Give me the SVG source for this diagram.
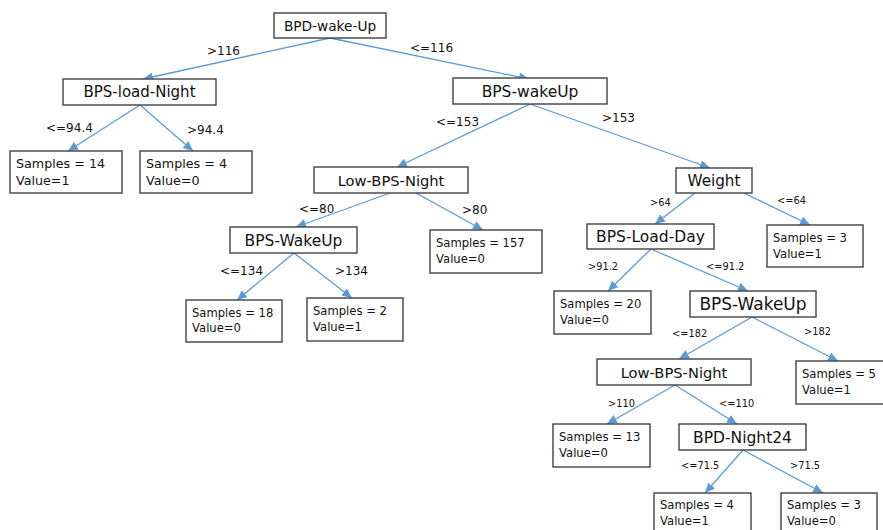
<svg xmlns="http://www.w3.org/2000/svg" width="883" height="530" viewBox="0 0 883 530">
<style>
rect{fill:#fff;stroke:#404040;stroke-width:1.4}
text{font-family:"DejaVu Sans",sans-serif;fill:#111}
.t{text-anchor:middle}
.c line{stroke:#5b9bd5;stroke-width:1.3;marker-end:url(#ah)}
.e{font-size:12px}
.s{font-size:9.8px}
.l{font-size:11.6px}
.L{font-size:12.7px}
</style>
<defs>
<marker id="ah" markerUnits="userSpaceOnUse" markerWidth="11" markerHeight="9" refX="10" refY="4.5" orient="auto">
<path d="M0,0 L10,4.5 L0,9 z" fill="#5b9bd5"/>
</marker>
</defs>
<rect x="0" y="0" width="883" height="530" style="fill:#fff;stroke:none"/>
<g class="c" id="connectors">
<line x1="330" y1="38" x2="143" y2="79"/>
<line x1="330" y1="38" x2="529" y2="79"/>
<line x1="140" y1="105" x2="68" y2="151"/>
<line x1="140" y1="105" x2="193" y2="151"/>
<line x1="530" y1="104" x2="397" y2="167"/>
<line x1="530" y1="104" x2="710" y2="168"/>
<line x1="390" y1="193" x2="296" y2="227"/>
<line x1="416" y1="193" x2="483" y2="230"/>
<line x1="294" y1="253" x2="237" y2="300"/>
<line x1="294" y1="253" x2="352" y2="298"/>
<line x1="695" y1="193" x2="655" y2="224"/>
<line x1="744" y1="193" x2="810" y2="225"/>
<line x1="651" y1="249" x2="608" y2="291"/>
<line x1="651" y1="249" x2="748" y2="291"/>
<line x1="752" y1="317" x2="679" y2="359"/>
<line x1="752" y1="317" x2="838" y2="361"/>
<line x1="675" y1="385" x2="607" y2="424"/>
<line x1="675" y1="385" x2="737" y2="424"/>
<line x1="743" y1="450" x2="705" y2="493"/>
<line x1="743" y1="450" x2="823" y2="493"/>
</g>
<g id="edge-labels">
<text class="e" x="207" y="55">&gt;116</text>
<text class="e" x="410" y="52">&lt;=116</text>
<text class="e" x="46" y="132">&lt;=94.4</text>
<text class="e" x="187" y="134">&gt;94.4</text>
<text class="e" x="436" y="126">&lt;=153</text>
<text class="e" x="602" y="122">&gt;153</text>
<text class="e" x="299" y="213">&lt;=80</text>
<text class="e" x="462" y="214">&gt;80</text>
<text class="e" x="220" y="275">&lt;=134</text>
<text class="e" x="335" y="275">&gt;134</text>
<text class="s" x="650" y="206">&gt;64</text>
<text class="s" x="777" y="204">&lt;=64</text>
<text class="s" x="588" y="270">&gt;91.2</text>
<text class="s" x="706" y="270">&lt;=91.2</text>
<text class="s" x="672" y="337">&lt;=182</text>
<text class="s" x="804" y="335">&gt;182</text>
<text class="s" x="608" y="407">&gt;110</text>
<text class="s" x="719" y="407">&lt;=110</text>
<text class="s" x="681" y="469">&lt;=71.5</text>
<text class="s" x="790" y="469">&gt;71.5</text>
</g>
<g id="n-root"><rect x="274" y="13" width="112" height="25"/><text class="t" x="330" y="31" style="font-size:13.7px">BPD-wake-Up</text></g>
<g id="n-bps-load-night"><rect x="63" y="79" width="153" height="26"/><text class="t" x="139.5" y="97" style="font-size:15px">BPS-load-Night</text></g>
<g id="n-bps-wakeup"><rect x="453" y="78" width="154" height="26"/><text class="t" x="530" y="96.5" style="font-size:15.5px">BPS-wakeUp</text></g>
<g id="leaf-14"><rect x="10" y="151" width="112" height="42"/><text class="L" x="16" y="168">Samples = 14</text><text class="L" x="16" y="185">Value=1</text></g>
<g id="leaf-4a"><rect x="140" y="151" width="112" height="42"/><text class="L" x="146" y="168">Samples = 4</text><text class="L" x="146" y="185">Value=0</text></g>
<g id="n-low-bps-night"><rect x="314" y="167" width="154" height="26"/><text class="t" x="391" y="185.5" style="font-size:14.7px">Low-BPS-Night</text></g>
<g id="n-weight"><rect x="676" y="168" width="76" height="25"/><text class="t" x="714" y="186" style="font-size:15.2px">Weight</text></g>
<g id="n-bps-wakeup-a"><rect x="230" y="227" width="127" height="26"/><text class="t" x="293.5" y="245.5" style="font-size:15.5px">BPS-WakeUp</text></g>
<g id="leaf-157"><rect x="430" y="230" width="112" height="43"/><text class="l" x="436" y="247">Samples = 157</text><text class="l" x="436" y="263">Value=0</text></g>
<g id="n-bps-load-day"><rect x="587" y="224" width="127" height="25"/><text class="t" x="650.5" y="242" style="font-size:15.5px">BPS-Load-Day</text></g>
<g id="leaf-3a"><rect x="767" y="225" width="96" height="42"/><text class="l" x="773" y="242">Samples = 3</text><text class="l" x="773" y="258">Value=1</text></g>
<g id="leaf-18"><rect x="186" y="300" width="96" height="42"/><text class="l" x="192" y="317">Samples = 18</text><text class="l" x="192" y="332">Value=0</text></g>
<g id="leaf-2"><rect x="307" y="298" width="96" height="43"/><text class="l" x="313" y="315">Samples = 2</text><text class="l" x="313" y="331">Value=1</text></g>
<g id="leaf-20"><rect x="554" y="291" width="97" height="43"/><text class="l" x="560" y="308">Samples = 20</text><text class="l" x="560" y="324">Value=0</text></g>
<g id="n-bps-wakeup-b"><rect x="690" y="291" width="126" height="26"/><text class="t" x="753" y="310" style="font-size:17px">BPS-WakeUp</text></g>
<g id="n-low-bps-night-b"><rect x="597" y="359" width="154" height="26"/><text class="t" x="674" y="377.5" style="font-size:14.7px">Low-BPS-Night</text></g>
<g id="leaf-5"><rect x="796" y="361" width="100" height="43"/><text class="l" x="802" y="378">Samples = 5</text><text class="l" x="802" y="394">Value=1</text></g>
<g id="leaf-13"><rect x="553" y="424" width="97" height="43"/><text class="l" x="559" y="441">Samples = 13</text><text class="l" x="559" y="457">Value=0</text></g>
<g id="n-bpd-night24"><rect x="679" y="424" width="127" height="26"/><text class="t" x="742.5" y="442.5" style="font-size:15.5px">BPD-Night24</text></g>
<g id="leaf-4b"><rect x="654" y="493" width="97" height="43"/><text class="l" x="660" y="509">Samples = 4</text><text class="l" x="660" y="525">Value=1</text></g>
<g id="leaf-3b"><rect x="781" y="493" width="96" height="43"/><text class="l" x="787" y="509">Samples = 3</text><text class="l" x="787" y="525">Value=0</text></g>
</svg>
